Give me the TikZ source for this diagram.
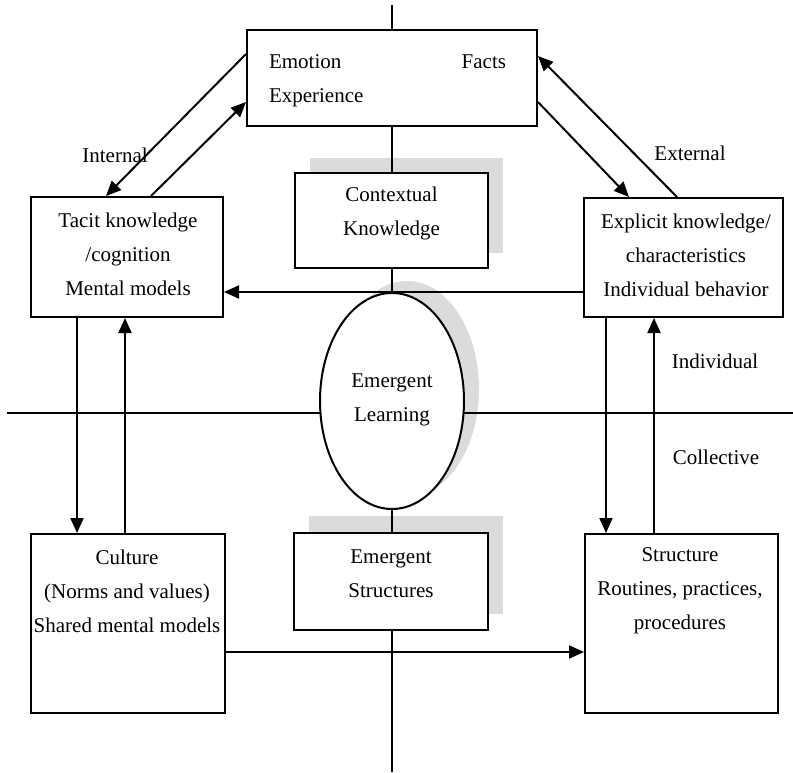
\documentclass[tikz,border=0pt]{standalone}
\usepackage{fontspec}
\setmainfont{Liberation Serif}
\usetikzlibrary{arrows.meta,shapes.geometric}

\begin{document}
\begin{tikzpicture}[x=1pt,y=-1pt,
  line width=2pt,
  box/.style={draw,fill=white,rectangle,inner sep=0pt,line width=2pt},
  oval/.style={draw,fill=white,ellipse,inner sep=0pt,line width=2pt,minimum width=144pt,minimum height=216pt},
  shade/.style={fill=gray!28,draw=none},
  txt/.style={font=\fontsize{21pt}{34pt}\selectfont,align=center,inner sep=0pt},
  lbl/.style={font=\fontsize{21pt}{25pt}\selectfont,inner sep=0pt,text height=14pt,text depth=4pt},
  flow/.style={line width=2pt,-{Triangle[length=15pt,width=13pt]}},
  link/.style={line width=2pt}]

\useasboundingbox (0,0) rectangle (793,772);

% grey drop shadows behind the central column
\fill[shade] (310,158) rectangle (503,253);
\fill[shade] (407,389) ellipse[x radius=72, y radius=108];
\fill[shade] (309,516) rectangle (503,614);

% the two axes
\coordinate (axtop) at (392,5);
\coordinate (axbot) at (392,772);
\coordinate (axleft) at (7,413);
\coordinate (axright) at (793,413);
\draw[link] (axtop) -- (axbot);
\draw[link] (axleft) -- (axright);

% boxes
\node[box,minimum width=290pt,minimum height=96pt] (top) at (392,78) {};
\node[box,minimum width=193pt,minimum height=95pt] (ctx) at (391.5,220.5) {};
\node[box,minimum width=192pt,minimum height=120pt] (tacit) at (127,257) {};
\node[box,minimum width=199pt,minimum height=119pt] (explicit) at (683.5,257.5) {};
\node[oval] (learn) at (392,401) {};
\node[box,minimum width=194pt,minimum height=97pt] (emstr) at (391,581.5) {};
\node[box,minimum width=194pt,minimum height=179pt] (culture) at (128,623.5) {};
\node[box,minimum width=193pt,minimum height=179pt] (structure) at (681.5,623.5) {};

% texts inside the boxes
\node[lbl,anchor=west] (emotion) at (268,63) {Emotion};
\node[lbl,anchor=east] (facts) at (507,63) {Facts};
\node[lbl,anchor=west] (experience) at (268,97) {Experience};
\node[txt] (ctxtext) at (391.5,213) {Contextual\\Knowledge};
\node[txt] (tacittext) at (128,254) {Tacit knowledge\\/cognition\\Mental models};
\node[txt] (explicittext) at (686,255) {Explicit knowledge/\\characteristics\\Individual behavior};
\node[txt] (learntext) at (392,400) {Emergent\\Learning};
\node[txt] (emstrtext) at (391,574) {Emergent\\Structures};
\node[txt] (culturetext) at (127,591) {Culture\\(Norms and values)\\Shared mental models};
\node[txt] (structuretext) at (680,591) {Structure\\Routines, practices,\\procedures};

% labels along the axes
\node[lbl] (internal) at (115,157) {Internal};
\node[lbl] (external) at (690,155) {External};
\node[lbl] (individual) at (715,363) {Individual};
\node[lbl] (collective) at (716,459) {Collective};

% connectors
\draw[flow] ([yshift=-25pt]top.north west) -- ([xshift=76pt]tacit.north west);
\draw[flow] ([xshift=121pt]tacit.north west) -- ([yshift=-73pt]top.north west);
\draw[flow] ([xshift=94pt]explicit.north west) -- ([yshift=-27pt]top.north east);
\draw[flow] ([yshift=-73pt]top.north east) -- ([xshift=46pt]explicit.north west);
\draw[flow] ([yshift=-95pt]explicit.north west) -- ([yshift=-96pt]tacit.north east);
\draw[flow] ([xshift=47pt]tacit.south west) -- ([xshift=47pt]culture.north west);
\draw[flow] ([xshift=95pt]culture.north west) -- ([xshift=95pt]tacit.south west);
\draw[flow] ([xshift=23pt]explicit.south west) -- ([xshift=22pt]structure.north west);
\draw[flow] ([xshift=70pt]structure.north west) -- ([xshift=71pt]explicit.south west);
\draw[flow] ([yshift=-119pt]culture.north east) -- ([yshift=-119pt]structure.north west);
\end{tikzpicture}
\end{document}
